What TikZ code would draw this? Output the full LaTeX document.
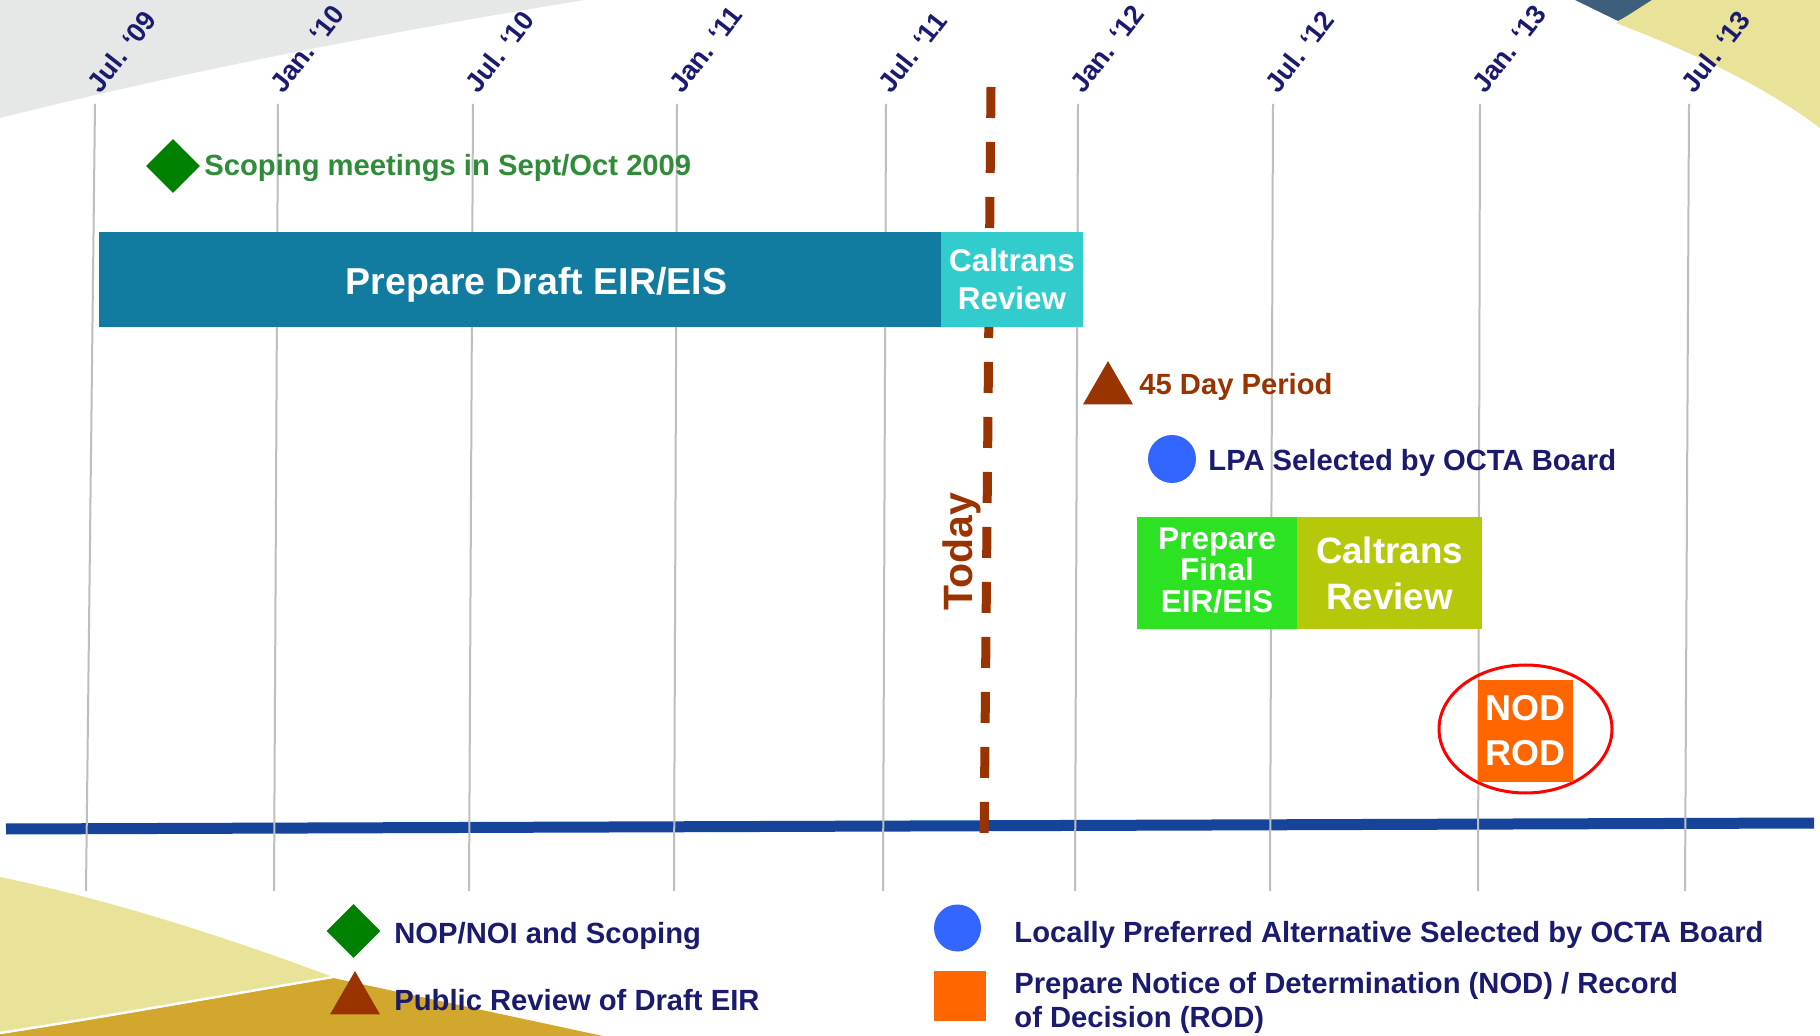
\documentclass[tikz,border=0pt]{standalone}
\usepackage{fontspec}
\setmainfont{Liberation Sans}
\usetikzlibrary{shapes.geometric}
\definecolor{navy}{RGB}{26,26,110}
\definecolor{gridgray}{RGB}{190,190,190}
\definecolor{draftblue}{RGB}{18,124,160}
\definecolor{reviewcyan}{RGB}{51,204,204}
\definecolor{finalgreen}{RGB}{45,225,35}
\definecolor{reviewolive}{RGB}{181,200,10}
\definecolor{nodorange}{RGB}{255,102,0}
\definecolor{brickbrown}{RGB}{153,51,0}
\definecolor{scopegreen}{RGB}{0,128,0}
\definecolor{scopetext}{RGB}{48,140,58}
\definecolor{lpablue}{RGB}{51,102,255}
\definecolor{lineblue}{RGB}{22,68,154}
\definecolor{bggray}{RGB}{229,232,231}
\definecolor{paleyellow}{RGB}{232,227,152}
\definecolor{goldbrown}{RGB}{210,167,46}
\definecolor{slateblue}{RGB}{62,95,124}

\begin{document}
\begin{tikzpicture}[x=0.5pt,y=-0.5pt,
  gridline/.style={gridgray,line width=1pt},
  month/.style={text=navy,font=\fontsize{13.5}{15}\selectfont\bfseries,rotate=52,anchor=base west,inner sep=0pt},
  note/.style={font=\fontsize{14.6}{17}\selectfont\bfseries,anchor=base west,inner sep=0pt,text=navy},
  phase/.style={rectangle,inner sep=0pt,text=white,align=center},
  gem/.style={diamond,aspect=1,fill=scopegreen,minimum size=27pt,inner sep=0pt},
  tri/.style={regular polygon,regular polygon sides=3,fill=brickbrown,minimum size=28.9pt,inner sep=0pt},
  dot/.style={circle,fill=lpablue,minimum size=24pt,inner sep=0pt}]
\useasboundingbox (0,0) rectangle (1820,1036);
\fill[white] (0,0) rectangle (1820,1036);
\fill[bggray] (0,0) -- (585,0) .. controls (400,30) and (200,68) .. (0,118) -- cycle;
\fill[slateblue] (1575,0) -- (1658,0) -- (1618,21) -- cycle;
\fill[paleyellow] (1616,23) -- (1652,0) -- (1820,0) -- (1820,128) .. controls (1770,90) and (1700,55) .. (1616,23) -- cycle;
\fill[paleyellow] (0,877) .. controls (110,900) and (220,935) .. (333,977) .. controls (220,995) and (110,1015) .. (0,1032) -- cycle;
\fill[goldbrown] (0,1036) -- (0,1034) .. controls (110,1017) and (220,997) .. (333,978) -- (603,1036) -- cycle;
\draw[white,line width=1.2pt] (0,1033) .. controls (110,1016) and (220,996) .. (333,977);

\coordinate (axisL) at (6,829);
\coordinate (axisR) at (1814,823);
\draw[lineblue,line width=5.5pt] (axisL) -- (axisR);
\foreach \n/\xt/\xb/\m in {1/95/86/Jul. ‘09,2/278/274/Jan. ‘10,3/473/469/Jul. ‘10,4/677/674/Jan. ‘11,5/886/883/Jul. ‘11,6/1078/1075/Jan. ‘12,7/1273/1270/Jul. ‘12,8/1480/1478/Jan. ‘13,9/1689/1685/Jul. ‘13}{
  \coordinate (top\n) at (\xt,104);
  \coordinate (bot\n) at (\xb,891);
  \draw[gridline] (top\n) -- (bot\n);
  \node[month] (m\n) at (\xt+5,95) {\m};
}

\coordinate (nowtop) at (991,87);
\coordinate (nowbot) at (984,847);
\draw[brickbrown,line width=4.5pt,dash pattern=on 15.5pt off 12pt] (nowtop) -- (nowbot);
\node[rotate=90,anchor=base,inner sep=0pt,text=brickbrown,font=\fontsize{20.5}{24}\selectfont\bfseries] (today) at (972,552) {Today};

\node[gem] (scope) at (173,166) {};
\node[note,text=scopetext] (scopetxt) at (204,176) {Scoping meetings in Sept/Oct 2009};

\node[phase,fill=draftblue,minimum width=421pt,minimum height=47.5pt] (draft) at (520,279.5) {};
\node[phase,anchor=base,font=\fontsize{18.75}{22}\selectfont\bfseries] (drafttxt) at (536.5,295) {Prepare Draft EIR/EIS};
\node[phase,fill=reviewcyan,minimum width=71pt,minimum height=47.5pt,font=\fontsize{15.7}{19}\selectfont\bfseries] (review1) at (1012,279.5) {Caltrans\\Review};

\node[tri] (period) at (1108,390) {};
\node[note,text=brickbrown] (periodtxt) at (1139,395) {45 Day Period};
\node[dot] (lpa) at (1172,459) {};
\node[note] (lpatxt) at (1208,471) {LPA Selected by OCTA Board};

\node[phase,fill=finalgreen,minimum width=80pt,minimum height=56pt,text depth=3pt,font=\fontsize{15.8}{15.75}\selectfont\bfseries] (final) at (1217,573) {Prepare\\Final\\EIR/EIS};
\node[phase,fill=reviewolive,minimum width=92.5pt,minimum height=56pt,font=\fontsize{18.35}{23}\selectfont\bfseries] (review2) at (1389.5,573) {Caltrans\\Review};

\node[ellipse,draw=red,line width=1.5pt,minimum width=86.5pt,minimum height=64pt,inner sep=0pt] (ring) at (1525.5,729) {};
\node[phase,fill=nodorange,minimum width=47.5pt,minimum height=51pt,font=\fontsize{18}{22.5}\selectfont\bfseries] (nod) at (1525.5,731) {NOD\\ROD};

\node[gem] (keygem) at (353.5,931) {};
\node[note] (keygemtxt) at (394,943) {NOP/NOI and Scoping};
\node[tri] (keytri) at (355,1000) {};
\node[note] (keytritxt) at (394,1010) {Public Review of Draft EIR};
\node[dot,minimum size=23.5pt] (keydot) at (957.5,928) {};
\node[note] (keydottxt) at (1014,942) {Locally Preferred Alternative Selected by OCTA Board};
\node[rectangle,fill=nodorange,minimum width=26pt,minimum height=25pt,inner sep=0pt] (keysq) at (960,996) {};
\node[note,anchor=north west,align=left,font=\fontsize{14.6}{17}\selectfont\bfseries] (keysqtxt) at (1014,972) {Prepare Notice of Determination (NOD) / Record\\of Decision (ROD)};
\end{tikzpicture}
\end{document}
